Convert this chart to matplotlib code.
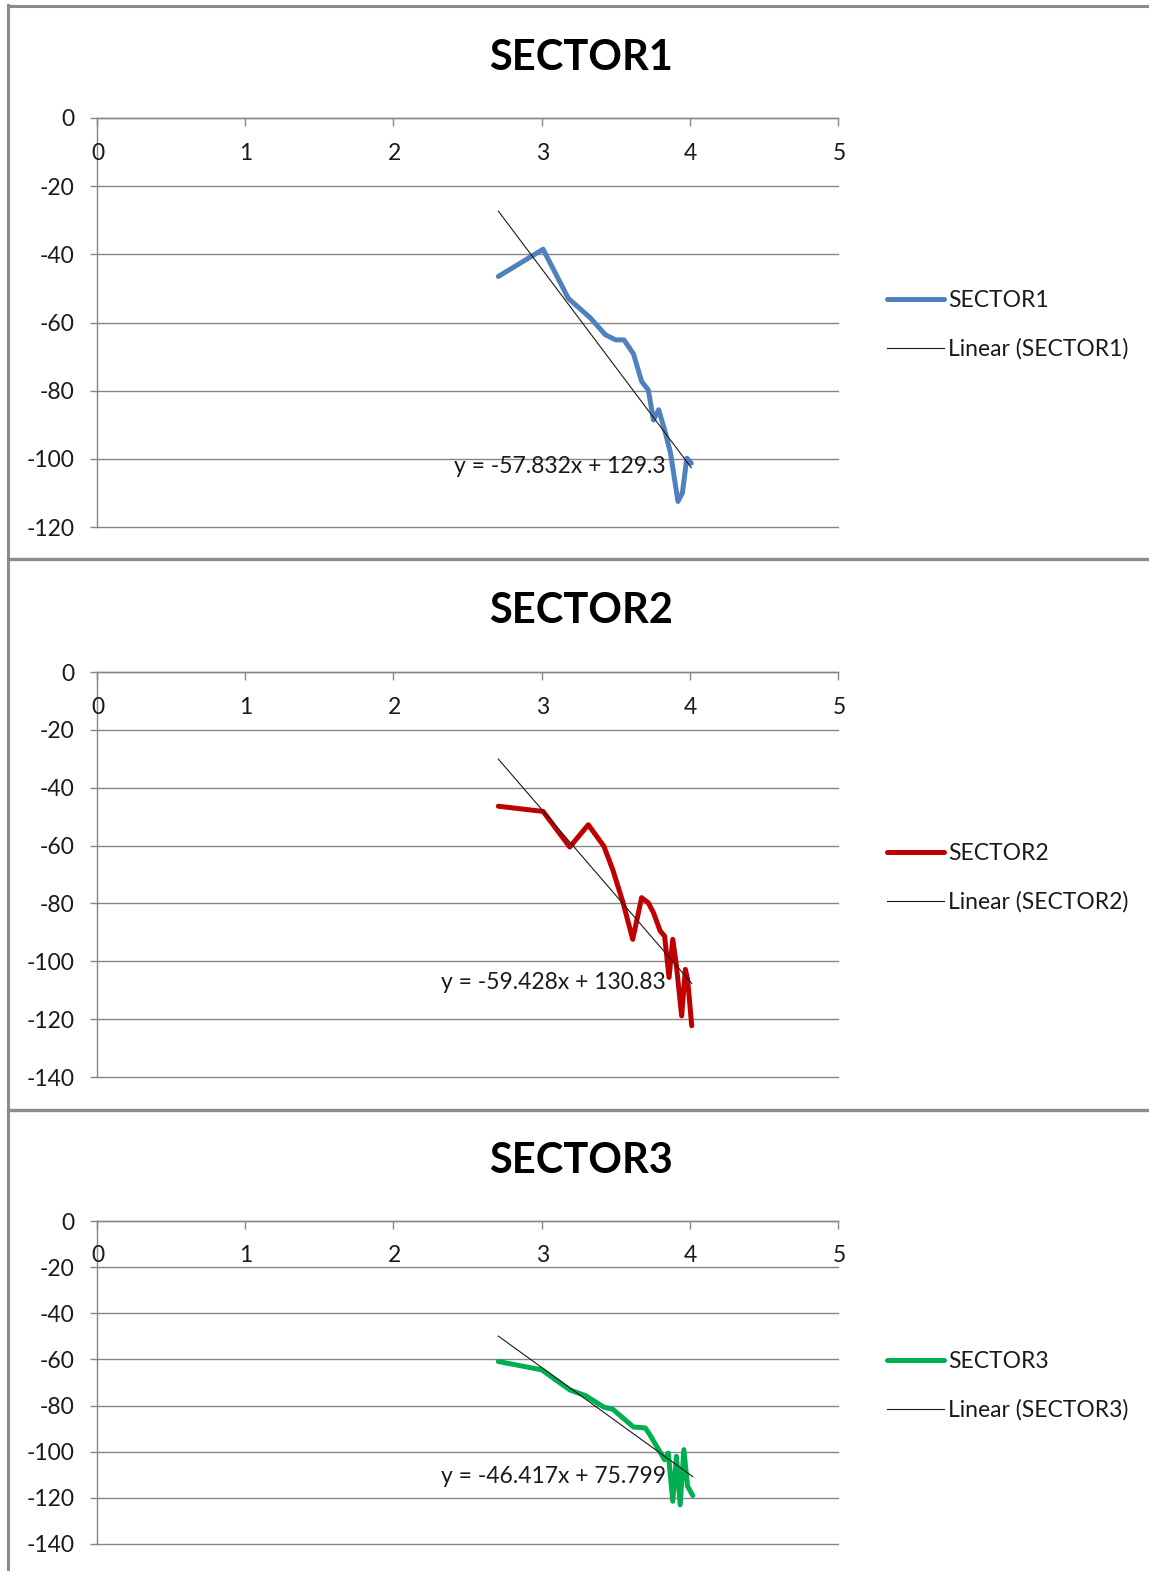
"""
Sector trends - three stacked line charts with linear trendlines.
"""

import matplotlib
matplotlib.use("Agg")
import matplotlib.pyplot as plt
from matplotlib.lines import Line2D
from matplotlib.transforms import offset_copy

plt.rcParams['font.family'] = ['Lato', 'DejaVu Sans']
plt.rcParams['axes.unicode_minus'] = False

# --- data -------------------------------------------------------------
sector1_x = [2.708, 3.01, 3.18, 3.33, 3.43, 3.50, 3.556, 3.62, 3.675, 3.72,
             3.755, 3.79, 3.83, 3.87, 3.92, 3.95, 3.98, 4.01]
sector1_y = [-46.5, -38.5, -52.9, -58.7, -63.6, -65.1, -65.1, -69.2, -77.3, -79.8,
             -88.6, -85.6, -91.5, -98.3, -112.5, -110.0, -99.8, -101.3]

sector2_x = [2.708, 3.01, 3.19, 3.315, 3.42, 3.48, 3.55, 3.615, 3.675, 3.72,
             3.755, 3.80, 3.83, 3.86, 3.885, 3.91, 3.945, 3.97, 3.985, 4.013]
sector2_y = [-46.4, -48.2, -60.5, -52.8, -60.2, -68.3, -79.8, -92.4, -78.0, -79.8,
             -83.2, -89.5, -91.3, -105.6, -92.4, -101.6, -118.9, -102.8, -106.2, -122.3]

sector3_x = [2.708, 3.0, 3.19, 3.30, 3.42, 3.48, 3.62, 3.70, 3.73, 3.81,
             3.83, 3.855, 3.885, 3.91, 3.935, 3.96, 3.985, 4.02]
sector3_y = [-60.9, -64.5, -73.2, -75.8, -80.7, -81.6, -89.3, -89.7, -92.6, -101.3,
             -103.5, -100.6, -121.5, -102.0, -123.0, -99.1, -115.0, -119.0]

# trendline coefficients (slope, intercept) as shown on the charts
trend_slope = [-57.832, -59.428, -46.417]
trend_intercept = ["129.3", "130.83", "75.799"]

names = ["SECTOR1", "SECTOR2", "SECTOR3"]
colors = ["#4F81BD", "#C00000", "#00B050"]
y_bottoms = [-120, -140, -140]
x_ticks = [0, 1, 2, 3, 4, 5]

# --- layout (pixels) --------------------------------------------------
W, H = 1149, 1571
GRID = "#868686"
BORDER = "#8c8c8c"
TXT = "#1a1a1a"
FS = 16.5

# (plot top, plot bottom, title y, legend y row1, equation position)
panels = [
    dict(top=118, bottom=527, title_y=58, leg_y=298, eq=(3.84, -102.3)),
    dict(top=672, bottom=1077, title_y=611, leg_y=851, eq=(3.84, -107.2)),
    dict(top=1221, bottom=1544, title_y=1161, leg_y=1359, eq=(3.84, -110.8)),
]
plot_left, plot_right = 97, 838


def fx(px):
    return px / W


def fy(py):
    return 1 - py / H


fig = plt.figure(figsize=(W / 100, H / 100), dpi=100)

series = [(sector1_x, sector1_y), (sector2_x, sector2_y), (sector3_x, sector3_y)]

for i, (xs, ys) in enumerate(series):
    p = panels[i]
    ax = fig.add_axes([fx(plot_left), fy(p["bottom"]),
                       fx(plot_right - plot_left), (p["bottom"] - p["top"]) / H])
    ax.set_xlim(0, 5)
    ax.set_ylim(y_bottoms[i], 0)
    ax.set_facecolor("none")

    # horizontal gridlines
    ax.set_yticks(range(y_bottoms[i], 1, 20))
    ax.yaxis.grid(True, color=GRID, linewidth=1.0)
    for gl in ax.get_ygridlines():
        gl.set_clip_on(False)
    ax.set_axisbelow(True)
    for s in ["right", "bottom"]:
        ax.spines[s].set_visible(False)
    for s in ["left", "top"]:
        ax.spines[s].set_color(GRID)
        ax.spines[s].set_linewidth(1.0)

    ax.tick_params(axis="y", direction="out", length=5, width=1, color=GRID,
                   labelsize=FS, labelcolor=TXT, pad=11)
    ax.xaxis.set_ticks_position("top")
    ax.set_xticks(x_ticks)
    ax.tick_params(axis="x", direction="in", length=6, width=1, color=GRID,
                   labeltop=False, labelbottom=False)

    # x tick labels sit just under the axis line at y = 0
    lbl_tr = offset_copy(ax.get_xaxis_transform(), fig=fig, x=1, y=-35, units="dots")
    for t in x_ticks:
        ax.text(t, 1, str(t), transform=lbl_tr, ha="center", va="center",
                fontsize=FS, color=TXT)

    # data line
    ax.plot(xs, ys, color=colors[i], linewidth=3.6, solid_joinstyle="round",
            solid_capstyle="round", zorder=3)

    # linear trendline from the stated equation
    tx = [min(xs), max(xs)]
    ty = [trend_slope[i] * v + float(trend_intercept[i]) for v in tx]
    ax.plot(tx, ty, color=TXT, linewidth=0.8, zorder=4)

    eq = f"y = {trend_slope[i]}x + {trend_intercept[i]}"
    ax.text(p["eq"][0], p["eq"][1], eq, ha="right", va="center",
            fontsize=FS, color=TXT, zorder=5)

    # title
    fig.text(0.506, fy(p["title_y"]), names[i], ha="center", va="center",
             fontsize=30, fontweight="bold", color="#000000")

    # legend
    handles = [Line2D([], [], color=colors[i], linewidth=3.6, solid_capstyle="round"),
               Line2D([], [], color=TXT, linewidth=0.8)]
    fig.legend(handles, [names[i], f"Linear ({names[i]})"],
               loc="upper left", bbox_to_anchor=(fx(882), fy(p["leg_y"] - 13)),
               frameon=False, fontsize=FS, handlelength=2.5, handletextpad=0.2,
               labelspacing=1.2, borderaxespad=0, borderpad=0.2,
               labelcolor=TXT)

# chart area borders
fig.add_artist(Line2D([fx(7.5), fx(7.5)], [fy(5), fy(H)], color=BORDER, linewidth=2.2))
fig.add_artist(Line2D([fx(7.5), 1], [fy(6), fy(6)], color=BORDER, linewidth=2.2))
for sep in [559, 1110]:
    fig.add_artist(Line2D([fx(7.5), 1], [fy(sep), fy(sep)], color=BORDER, linewidth=2.4))

fig.savefig("out.png", dpi=100, facecolor="white")
